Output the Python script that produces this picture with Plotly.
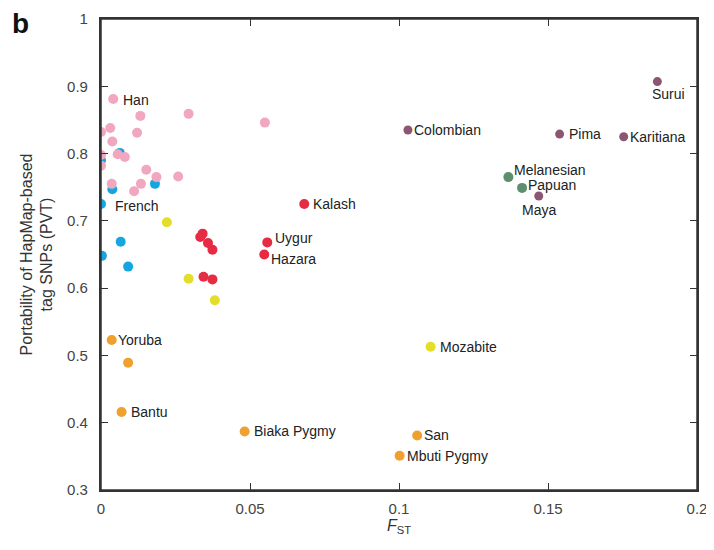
import plotly.graph_objects as go

# ---- data ----
east_asia_x = [0.0041, 0.0132, 0.0294, 0.055, 0.0031, 0.0, 0.0121, 0.0038, 0.0, 0.0056,
               0.008, 0.0, 0.0152, 0.0186, 0.0259, 0.0134, 0.0036, 0.0111]
east_asia_y = [0.881, 0.856, 0.859, 0.846, 0.838, 0.832, 0.831, 0.818, 0.798, 0.799,
               0.795, 0.782, 0.776, 0.765, 0.766, 0.755, 0.755, 0.744]
east_asia_lab = ["Han"] + [""] * 17

europe_x = [0.0063, 0.0, 0.0038, 0.0181, 0.0, 0.0066, 0.0003, 0.0091]
europe_y = [0.801, 0.790, 0.747, 0.755, 0.725, 0.669, 0.648, 0.632]
europe_lab = ["", "", "", "", "French", "", "", ""]

mideast_x = [0.0221, 0.0294, 0.0382, 0.1106]
mideast_y = [0.698, 0.614, 0.582, 0.513]
mideast_lab = ["", "", "", "Mozabite"]

csasia_x = [0.0341, 0.0333, 0.0359, 0.0374, 0.0344, 0.0374, 0.0682, 0.0558, 0.0548]
csasia_y = [0.681, 0.676, 0.667, 0.657, 0.617, 0.613, 0.725, 0.668, 0.650]
csasia_lab = ["", "", "", "", "", "", "Kalash", "Uygur", "Hazara"]

africa_x = [0.0036, 0.0091, 0.0069, 0.0482, 0.1061, 0.1002]
africa_y = [0.523, 0.489, 0.416, 0.387, 0.381, 0.351]
africa_lab = ["Yoruba", "", "Bantu", "Biaka Pygmy", "San", "Mbuti Pygmy"]

america_x = [0.103, 0.1539, 0.1754, 0.1469, 0.1867]
america_y = [0.835, 0.829, 0.825, 0.737, 0.907]
america_lab = ["Colombian", "Pima", "Karitiana", "Maya", "Surui"]

oceania_x = [0.1367, 0.1413]
oceania_y = [0.765, 0.749]
oceania_lab = ["Melanesian", "Papuan"]

x_ticks = [0, 0.05, 0.1, 0.15, 0.2]
x_tick_text = ["0", "0.05", "0.1", "0.15", "0.2"]
y_ticks = [0.3, 0.4, 0.5, 0.6, 0.7, 0.8, 0.9, 1.0]
y_tick_text = ["0.3", "0.4", "0.5", "0.6", "0.7", "0.8", "0.9", "1"]

FONT = "Liberation Sans, Arial, sans-serif"
NB = "\u00a0"

groups = [
    ("Europe", europe_x, europe_y, europe_lab, "#16A6DF", 10),
    ("East Asia", east_asia_x, east_asia_y, east_asia_lab, "#F2A7C1", 10),
    ("Middle East", mideast_x, mideast_y, mideast_lab, "#E3DE2A", 10),
    ("Central/South Asia", csasia_x, csasia_y, csasia_lab, "#E62B42", 10),
    ("Africa", africa_x, africa_y, africa_lab, "#F0A02E", 10),
    ("America", america_x, america_y, america_lab, "#8C5673", 9),
    ("Oceania", oceania_x, oceania_y, oceania_lab, "#5D8F6E", 10),
]

# label placement styles (offsets in pixels)
special = {
    "Maya": dict(xanchor="center", yanchor="top", xshift=0, yshift=-4),
    "Surui": dict(xanchor="left", yanchor="top", xshift=-7, yshift=-2),
    "Melanesian": dict(xanchor="left", yanchor="bottom", xshift=4, yshift=-3),
    "Papuan": dict(xanchor="left", yanchor="middle", xshift=4, yshift=3),
    "French": dict(xanchor="left", yanchor="middle", xshift=12, yshift=-2),
    "Han": dict(xanchor="left", yanchor="middle", xshift=8, yshift=-1),
    "Uygur": dict(xanchor="left", yanchor="bottom", xshift=6, yshift=-6),
    "Hazara": dict(xanchor="left", yanchor="top", xshift=5, yshift=6),
    "Yoruba": dict(xanchor="left", yanchor="middle", xshift=4, yshift=0),
    "Colombian": dict(xanchor="left", yanchor="middle", xshift=4, yshift=0),
    "Karitiana": dict(xanchor="left", yanchor="middle", xshift=4, yshift=0),
    "Mbuti Pygmy": dict(xanchor="left", yanchor="middle", xshift=5, yshift=0),
    "San": dict(xanchor="left", yanchor="middle", xshift=5, yshift=1),
}

fig = go.Figure()
annotations = []
for name, xs, ys, labs, col, size in groups:
    fig.add_trace(go.Scatter(
        x=xs, y=ys, mode="markers", name=name,
        marker=dict(color=col, size=size, line=dict(width=0)),
        showlegend=False, hoverinfo="x+y",
    ))
    for xv, yv, lab in zip(xs, ys, labs):
        if not lab:
            continue
        st = special.get(lab, dict(xanchor="left", yanchor="middle", xshift=7, yshift=0))
        annotations.append(dict(
            x=xv, y=yv, xref="x", yref="y", text=lab, showarrow=False,
            font=dict(family=FONT, size=14, color="#222222"),
            **st,
        ))

annotations.append(dict(
    x=-0.152, y=0.99, xref="paper", yref="paper", text="<b>b</b>", showarrow=False,
    xanchor="left", yanchor="middle",
    font=dict(family=FONT, size=28, color="#111111"),
))

axis_common = dict(
    showgrid=False, zeroline=False, showline=True, linecolor="#333333", linewidth=1.5,
    mirror="allticks", ticks="inside", ticklen=7, tickwidth=1, tickcolor="#333333",
    automargin=False, ticklabeloverflow="allow",
    tickfont=dict(family=FONT, size=15, color="#444444"),
)

frame = [
    dict(type="line", xref="paper", yref="paper", x0=0, y0=1, x1=1, y1=1),
    dict(type="line", xref="paper", yref="paper", x0=1, y0=0, x1=1, y1=1),
    dict(type="line", xref="paper", yref="paper", x0=0, y0=0, x1=1, y1=0),
    dict(type="line", xref="paper", yref="paper", x0=0, y0=0, x1=0, y1=1),
]
for s in frame:
    s.update(line=dict(color="#333333", width=1.5), layer="above")

# The page body adds an 8px offset; the figure is sized so the page fits the
# 714x550 window without scrollbars.
fig.update_layout(
    width=698, height=528,
    margin=dict(l=93, r=9, t=11, b=46),
    plot_bgcolor="white", paper_bgcolor="white",
    xaxis=dict(range=[0, 0.2], tickvals=x_ticks, ticktext=x_tick_text,
               ticklabelstandoff=4,
               title=dict(text="<i>F</i><sub>ST</sub>", standoff=6,
                          font=dict(family=FONT, size=16, color="#333333")),
               **axis_common),
    yaxis=dict(range=[0.3, 1.0], tickvals=y_ticks,
               ticktext=[t + NB * 2 for t in y_tick_text],
               title=dict(text="Portability of HapMap-based<br>tag SNPs (PVT)", standoff=10,
                          font=dict(family=FONT, size=16, color="#333333")),
               **axis_common),
    annotations=annotations,
    shapes=frame,
)

fig.write_html("out.html")
